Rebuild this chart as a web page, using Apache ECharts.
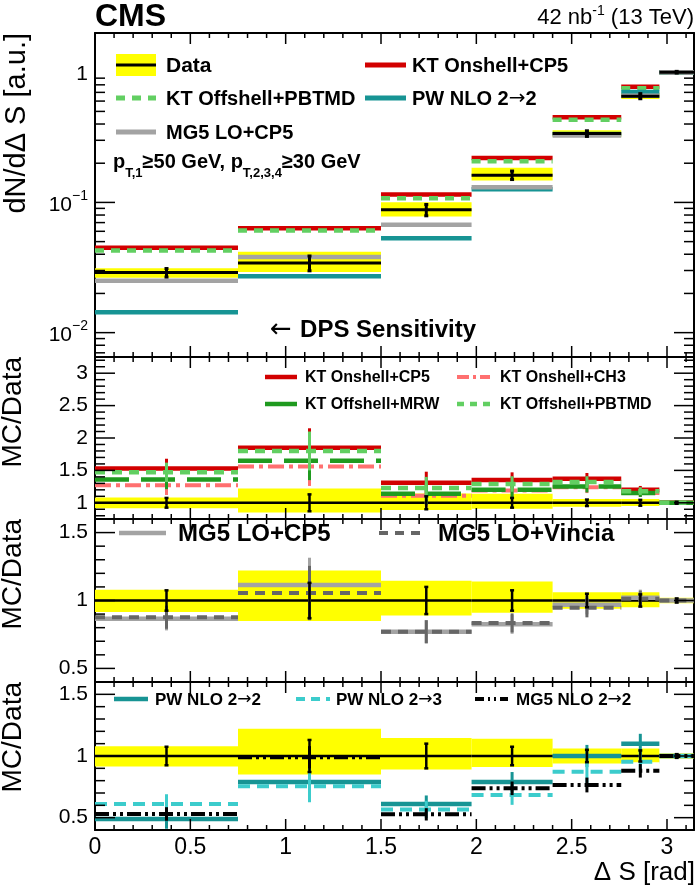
<!DOCTYPE html>
<html><head><meta charset="utf-8">
<script src="https://cdn.jsdelivr.net/npm/echarts@6/dist/echarts.min.js"></script>
<style>html,body{margin:0;padding:0;background:#fff}#c{width:700px;height:885px}</style>
</head><body><div id="c"></div>
<script>
// ---------------- data ----------------
const binEdges = [0, 0.75, 1.5, 1.975, 2.4, 2.76, 2.96, Math.PI];
// top panel: normalised distributions
const dataNorm        = [0.0289, 0.0343, 0.0877, 0.162, 0.338, 0.655, 1.0];
const ktOnshellCP5Top = [0.0449, 0.0634, 0.1148, 0.2195, 0.450, 0.774, 1.0];
const ktOffPBTMDTop   = [0.0428, 0.0608, 0.1076, 0.207, 0.431, 0.752, 1.0];
const pwNlo22Top      = [0.01436, 0.0271, 0.0531, 0.126, 0.336, 0.705, 1.0];
const mg5LoCP5Top     = [0.0250, 0.0381, 0.0675, 0.131, 0.326, 0.660, 1.0];
// relative data uncertainties
const dataStatRel = [0.075, 0.13, 0.10, 0.075, 0.05, 0.045, 0.015];
const dataUncUp   = [0.08, 0.22, 0.145, 0.14, 0.06, 0.06, 0.02];
const dataUncDown = [0.085, 0.15, 0.11, 0.09, 0.06, 0.05, 0.02];
// ratio panels (MC / Data)
const ratioData       = [1, 1, 1, 1, 1, 1, 1];
const ratioKtOnCP5    = [1.53, 1.85, 1.31, 1.35, 1.37, 1.20, 1.0];
const ratioKtOnCH3    = [1.27, 1.56, 1.11, 1.19, 1.24, 1.15, 1.0];
const ratioKtOffMRW   = [1.36, 1.65, 1.14, 1.20, 1.25, 1.15, 1.0];
const ratioKtOffPBTMD = [1.47, 1.80, 1.23, 1.29, 1.32, 1.18, 1.0];
const errKt           = [0.15, 0.30, 0.17, 0.12, 0.09, 0.06, 0.02];
const ratioMg5LoCP5    = [0.865, 1.115, 0.77, 0.825, 0.968, 1.02, 1.0];
const ratioMg5LoVincia = [0.877, 1.055, 0.77, 0.835, 0.946, 1.012, 1.0];
const errMg5Lo         = [0.085, 0.20, 0.085, 0.07, 0.07, 0.06, 0.02];
const ratioPwNlo22  = [0.49, 0.79, 0.61, 0.79, 1.00, 1.10, 1.0];
const ratioPwNlo23  = [0.61, 0.755, 0.567, 0.684, 0.873, 0.954, 1.0];
const ratioMg5Nlo22 = [0.53, 0.99, 0.527, 0.738, 0.765, 0.88, 1.0];
const errNlo        = [0.08, 0.13, 0.07, 0.08, 0.09, 0.08, 0.02];
const errMg5Nlo     = [0.055, 0.09, 0.05, 0.055, 0.06, 0.055, 0.015];
// tick labels
const xTickLabels = ['0', '0.5', '1', '1.5', '2', '2.5', '3'];
const xTickValues = [0, 0.5, 1, 1.5, 2, 2.5, 3];
const topYTickValues = [0.01, 0.1, 1];
const topYTickExps = [-2, -1, 0];
const ktYTickValues = [1, 1.5, 2, 2.5, 3];
const ktYTickLabels = ['1', '1.5', '2', '2.5', '3'];
const rYTickValues = [0.5, 1, 1.5];
const rYTickLabels = ['0.5', '1', '1.5'];

// ---------------- styling ----------------
const FONT = '"Liberation Sans", Arial, Helvetica, sans-serif';
const SYMF = '"DejaVu Sans", sans-serif';
const C = {
  red: '#d20000', salmon: '#ff7070', dgreen: '#1f9a1f', lgreen: '#62cf62',
  teal: '#179494', cyan: '#3ccccc', black: '#000', gray: '#a3a3a3', dgray: '#666666', yellow: '#ffff00'
};
const grids = [
  {left: 95, right: 6, top: 33, height: 324},
  {left: 95, right: 6, top: 357, height: 162},
  {left: 95, right: 6, top: 519, height: 163},
  {left: 95, right: 6, top: 682, height: 148}
];
const yRanges = [[0.0065, 2], [0.75, 3.25], [0.4, 1.6], [0.4, 1.6]];

function near(a, b) { return Math.abs(a - b) < 1e-6; }
function lookup(vals, labels, v) { for (let i = 0; i < vals.length; i++) if (near(vals[i], v)) return labels[i]; return ''; }

const xAxes = [], yAxes = [];
grids.forEach((g, gi) => {
  const base = {gridIndex: gi, type: 'value', min: 0, max: Math.PI, interval: 0.5,
    axisLine: {show: true, onZero: false, lineStyle: {color: '#000', width: 2}},
    axisTick: {show: false}, splitLine: {show: false}};
  xAxes.push(Object.assign({}, base, {position: 'bottom',
    axisLabel: {show: gi === 3, color: '#000', fontFamily: FONT, fontSize: 23, margin: 6,
      formatter: v => lookup(xTickValues, xTickLabels, v)}}));
  xAxes.push(Object.assign({}, base, {position: 'top', axisLabel: {show: false}}));
  let yb;
  if (gi === 0) {
    yb = {type: 'log', logBase: 10, min: yRanges[0][0], max: yRanges[0][1]};
  } else if (gi === 1) {
    yb = {type: 'value', min: yRanges[1][0], max: yRanges[1][1], interval: 0.25};
  } else {
    yb = {type: 'value', min: yRanges[gi][0], max: yRanges[gi][1], interval: 0.1};
  }
  Object.assign(yb, {gridIndex: gi, axisLine: {show: true, onZero: false, lineStyle: {color: '#000', width: 2}},
    axisTick: {show: false}, splitLine: {show: false}});
  let fmt;
  if (gi === 0) fmt = v => {
    const e = lookup(topYTickValues, topYTickExps, v);
    if (e === '') return '';
    if (e === 0) return '{b|1}';
    return '{b|10}{s|\u2212' + Math.abs(e) + '}';
  };
  else if (gi === 1) fmt = v => lookup(ktYTickValues, ktYTickLabels, v);
  else fmt = v => lookup(rYTickValues, rYTickLabels, v);
  yAxes.push(Object.assign({}, yb, {position: 'left',
    axisLabel: {show: true, color: '#000', fontFamily: FONT, fontSize: 21, margin: 7, formatter: fmt,
      rich: {b: {fontSize: 21, fontFamily: FONT, color: '#000', lineHeight: 26, verticalAlign: 'bottom'},
             s: {fontSize: 14, fontFamily: FONT, color: '#000', lineHeight: 12, verticalAlign: 'top'}}}}));
  yAxes.push(Object.assign({}, yb, {position: 'right', axisLabel: {show: false}}));
});

// ---------------- series builders ----------------
function segSeries(gi, name, vals, color, width, dash, z) {
  return {type: 'custom', name, xAxisIndex: 2 * gi, yAxisIndex: 2 * gi, z: z, silent: true, clip: true,
    encode: {x: [0, 1], y: 2},
    data: vals.map((v, i) => [binEdges[i], binEdges[i + 1], v]),
    renderItem: (p, api) => {
      const a = api.coord([api.value(0), api.value(2)]);
      const b = api.coord([api.value(1), api.value(2)]);
      return {type: 'line', shape: {x1: a[0], y1: a[1], x2: b[0], y2: b[1]},
        style: {stroke: color, lineWidth: width, lineDash: dash || null, fill: null}};
    }};
}
function bandSeries(gi, lows, highs, z) {
  return {type: 'custom', name: 'band', xAxisIndex: 2 * gi, yAxisIndex: 2 * gi, z: z, silent: true, clip: true,
    encode: {x: [0, 1], y: [2, 3]},
    data: lows.map((l, i) => [binEdges[i], binEdges[i + 1], l, highs[i]]),
    renderItem: (p, api) => {
      const a = api.coord([api.value(0), api.value(3)]);
      const b = api.coord([api.value(1), api.value(2)]);
      return {type: 'rect', shape: {x: a[0], y: a[1], width: b[0] - a[0], height: b[1] - a[1]},
        style: {fill: C.yellow}};
    }};
}
function errSeries(gi, lows, highs, color, width, cap, z) {
  return {type: 'custom', name: 'err', xAxisIndex: 2 * gi, yAxisIndex: 2 * gi, z: z, silent: true, clip: true,
    encode: {x: 0, y: [1, 2]},
    data: lows.map((l, i) => [(binEdges[i] + binEdges[i + 1]) / 2, l, highs[i]]),
    renderItem: (p, api) => {
      const a = api.coord([api.value(0), api.value(2)]);
      const b = api.coord([api.value(0), api.value(1)]);
      const ch = [{type: 'line', shape: {x1: a[0], y1: a[1], x2: b[0], y2: b[1]}, style: {stroke: color, lineWidth: width}}];
      if (cap > 0) {
        ch.push({type: 'line', shape: {x1: a[0] - cap, y1: a[1], x2: a[0] + cap, y2: a[1]}, style: {stroke: color, lineWidth: width}});
        ch.push({type: 'line', shape: {x1: b[0] - cap, y1: b[1], x2: b[0] + cap, y2: b[1]}, style: {stroke: color, lineWidth: width}});
      }
      return {type: 'group', children: ch};
    }};
}
function tickSeries(gi, yRef, xTicks, yTicks) {
  const data = [];
  xTicks.forEach(t => data.push([t[0], yRef, 0, t[1]]));
  yTicks.forEach(t => data.push([1, t[0], 1, t[1]]));
  return {type: 'custom', name: 'ticks', xAxisIndex: 2 * gi, yAxisIndex: 2 * gi, z: 20, silent: true, clip: false,
    encode: {x: 0, y: 1}, data,
    renderItem: (p, api) => {
      const cs = p.coordSys;
      const q = api.coord([api.value(0), api.value(1)]);
      const L = api.value(3);
      const st = {stroke: '#000', lineWidth: 1.5};
      if (api.value(2) === 0) {
        return {type: 'group', children: [
          {type: 'line', shape: {x1: q[0], y1: cs.y + cs.height, x2: q[0], y2: cs.y + cs.height - L}, style: st},
          {type: 'line', shape: {x1: q[0], y1: cs.y, x2: q[0], y2: cs.y + L}, style: st}]};
      }
      return {type: 'group', children: [
        {type: 'line', shape: {x1: cs.x, y1: q[1], x2: cs.x + L, y2: q[1]}, style: st},
        {type: 'line', shape: {x1: cs.x + cs.width, y1: q[1], x2: cs.x + cs.width - L, y2: q[1]}, style: st}]};
    }};
}

// tick lists (axis structure)
const XMAJ = 11, XMIN = 5, YMAJ = 20, YMIN = 10;
const xTickList = [];
for (let k = 1; k <= 31; k++) { const v = k / 10; xTickList.push([v, (k % 5 === 0) ? XMAJ : XMIN]); }
const topYTickList = [];
[0.001, 0.01, 0.1].forEach(d => { for (let m = 1; m <= 9; m++) { const v = m * d; if (v >= 0.0066 && v < 1.99) topYTickList.push([v, m === 1 ? YMAJ : YMIN]); } });
const ktYTickList = [];
for (let k = 8; k <= 32; k++) { const v = k / 10; ktYTickList.push([v, (k % 5 === 0) ? YMAJ : YMIN]); }
const rYTickList = [];
for (let k = 5; k <= 15; k++) { const v = k / 10; rYTickList.push([v, (k % 5 === 0) ? YMAJ : YMIN]); }

// ---------------- series ----------------
const series = [];
// top panel
series.push(bandSeries(0, dataNorm.map((d, i) => d * (1 - dataUncDown[i])), dataNorm.map((d, i) => d * (1 + dataUncUp[i])), 1));
series.push(segSeries(0, 'KT Onshell+CP5', ktOnshellCP5Top, C.red, 4.5, null, 2));
series.push(segSeries(0, 'KT Offshell+PBTMD', ktOffPBTMDTop, C.lgreen, 4.5, [9, 7], 3));
series.push(segSeries(0, 'PW NLO 2\u21922', pwNlo22Top, C.teal, 4.5, null, 4));
series.push(segSeries(0, 'MG5 LO+CP5', mg5LoCP5Top, C.gray, 4.5, null, 5));
series.push(segSeries(0, 'Data', dataNorm, C.black, 3, null, 6));
series.push(errSeries(0, dataNorm.map((d, i) => d * (1 - dataStatRel[i])), dataNorm.map((d, i) => d * (1 + dataStatRel[i])), C.black, 3, 2, 7));
series.push(tickSeries(0, 0.01, xTickList, topYTickList));

function ratioBand(gi) {
  return bandSeries(gi, dataUncDown.map(u => 1 - u), dataUncUp.map(u => 1 + u), 1);
}
function dataRatio(gi) {
  return [segSeries(gi, 'Data', ratioData, C.black, 2.5, null, 2),
          errSeries(gi, dataStatRel.map((u, i) => ratioData[i] - u), dataStatRel.map((u, i) => ratioData[i] + u), C.black, 2.5, 2, 12)];
}
function mcRatio(gi, name, vals, errs, color, width, dash, z) {
  return [errSeries(gi, vals.map((v, i) => v - errs[i]), vals.map((v, i) => v + errs[i]), color, 3, 0, z),
          segSeries(gi, name, vals, color, width, dash, z)];
}
// panel 2
series.push(ratioBand(1));
series.push(...dataRatio(1));
series.push(...mcRatio(1, 'KT Onshell+CP5', ratioKtOnCP5, errKt, C.red, 4.5, null, 3));
series.push(...mcRatio(1, 'KT Onshell+CH3', ratioKtOnCH3, errKt, C.salmon, 4, [16, 5, 4, 5], 4));
series.push(...mcRatio(1, 'KT Offshell+MRW', ratioKtOffMRW, errKt, C.dgreen, 4.5, [34, 12], 5));
series.push(...mcRatio(1, 'KT Offshell+PBTMD', ratioKtOffPBTMD, errKt, C.lgreen, 4.5, [10, 7], 6));
series.push(tickSeries(1, 1, xTickList, ktYTickList));
// panel 3
series.push(ratioBand(2));
series.push(...dataRatio(2));
series.push(...mcRatio(2, 'MG5 LO+CP5', ratioMg5LoCP5, errMg5Lo, C.gray, 4.5, null, 3));
series.push(...mcRatio(2, 'MG5 LO+Vincia', ratioMg5LoVincia, errMg5Lo, C.dgray, 4, [10, 7], 4));
series.push(tickSeries(2, 1, xTickList, rYTickList));
// panel 4
series.push(ratioBand(3));
series.push(...dataRatio(3));
series.push(...mcRatio(3, 'PW NLO 2\u21922', ratioPwNlo22, errNlo, C.teal, 4.5, null, 3));
series.push(...mcRatio(3, 'PW NLO 2\u21923', ratioPwNlo23, errNlo, C.cyan, 4, [12, 7], 4));
series.push(...mcRatio(3, 'MG5 NLO 2\u21922', ratioMg5Nlo22, errMg5Nlo, C.black, 4, [14, 4, 3, 4, 3, 4], 5));
series.push(tickSeries(3, 1, xTickList, rYTickList));

// ---------------- annotations / legends ----------------
function txt(x, y, text, size, bold, align, extra) {
  return Object.assign({type: 'text', x, y, z: 100, silent: true,
    style: {text, fill: '#000', font: (bold ? 'bold ' : '') + size + 'px ' + FONT,
      align: align || 'left', verticalAlign: 'middle', textAlign: align || 'left', textVerticalAlign: 'middle'}}, extra || {});
}
// rich text helper: tokens n (normal), a (arrow), with bold option
function rtxt(x, y, text, size, bold, rich) {
  const base = {fontSize: size, fontWeight: bold ? 'bold' : 'normal', fontFamily: FONT, fill: '#000', color: '#000', verticalAlign: 'middle'};
  const r = {n: Object.assign({}, base),
             a: Object.assign({}, base, {fontFamily: SYMF, fontWeight: 'normal'})};
  Object.keys(rich || {}).forEach(k => { r[k] = Object.assign({}, base, rich[k]); });
  return {type: 'text', x, y, z: 100, silent: true,
    style: {text, rich: r, align: 'left', verticalAlign: 'middle', textAlign: 'left', textVerticalAlign: 'middle'}};
}
function sym(x1, x2, y, color, width, dash) {
  return {type: 'line', z: 100, silent: true, shape: {x1, y1: y, x2, y2: y},
    style: {stroke: color, lineWidth: width, lineDash: dash || null}};
}
const graphic = [
  txt(95, 17, 'CMS', 32, true, 'left'),
  {type: 'text', x: 694, y: 18, z: 100, silent: true, style: {
    text: '{n|42 nb}{s|-1}{n| (13 TeV)}', align: 'right', verticalAlign: 'middle', textAlign: 'right', textVerticalAlign: 'middle',
    rich: {n: {fontSize: 22, fontFamily: FONT, fill: '#000', color: '#000', lineHeight: 24, verticalAlign: 'middle'},
           s: {fontSize: 14, fontFamily: FONT, fill: '#000', color: '#000', lineHeight: 14, padding: [0, 0, 14, 0], verticalAlign: 'middle'}}}},
  txt(17, 33, 'dN/d\u0394 S [a.u.]', 29, false, 'right', {rotation: Math.PI / 2}),
  txt(13, 357, 'MC/Data', 28, false, 'right', {rotation: Math.PI / 2}),
  txt(13, 519, 'MC/Data', 28, false, 'right', {rotation: Math.PI / 2}),
  txt(13, 682, 'MC/Data', 28, false, 'right', {rotation: Math.PI / 2}),
  txt(695, 873, '\u0394 S [rad]', 26, false, 'right'),
  // top legend
  {type: 'rect', z: 99, silent: true, shape: {x: 116, y: 54, width: 40, height: 22}, style: {fill: C.yellow}},
  sym(116, 156, 65, C.black, 3),
  txt(166, 66, 'Data', 21, true),
  sym(365, 406, 65, C.red, 5),
  txt(412, 66, 'KT Onshell+CP5', 20, true),
  sym(116, 156, 98, C.lgreen, 5, [9, 7]),
  txt(166, 99, 'KT Offshell+PBTMD', 20, true),
  sym(365, 406, 98, C.teal, 5),
  rtxt(412, 99, '{n|PW NLO 2}{a|\u2192}{n|2}', 20, true),
  sym(116, 156, 132, C.gray, 5),
  txt(166, 133, 'MG5 LO+CP5', 20, true),
  rtxt(113, 162, '{n|p}{u|T,1}{n|\u226550 GeV, p}{u|T,2,3,4}{n|\u226530 GeV}', 20, true,
    {u: {fontSize: 13, lineHeight: 14, padding: [22, 0, 0, 0]}}),
  rtxt(270, 330, '{a|\u2190 }{n|DPS Sensitivity}', 24, true, {a: {fontFamily: SYMF, fontWeight: 'normal', fontSize: 26}}),
  // panel 2 legend
  sym(265, 297, 377, C.red, 4.5),
  txt(305, 378, 'KT Onshell+CP5', 16, true),
  sym(457, 490, 377, C.salmon, 4, [12, 4, 3, 4]),
  txt(500, 378, 'KT Onshell+CH3', 16, true),
  sym(265, 297, 404, C.dgreen, 4.5),
  txt(305, 405, 'KT Offshell+MRW', 16, true),
  sym(457, 490, 404, C.lgreen, 4.5, [7, 6]),
  txt(500, 405, 'KT Offshell+PBTMD', 16, true),
  // panel 3 legend
  sym(119, 166, 533, C.gray, 4.5),
  txt(178, 534, 'MG5 LO+CP5', 24, true),
  sym(379, 427, 533, C.dgray, 4, [9, 7]),
  txt(438, 534, 'MG5 LO+Vincia', 24, true),
  // panel 4 legend
  sym(114, 148, 699, C.teal, 4.5),
  rtxt(155, 700, '{n|PW NLO 2}{a|\u2192}{n|2}', 17, true),
  sym(296, 330, 699, C.cyan, 4, [9, 6]),
  rtxt(336, 700, '{n|PW NLO 2}{a|\u2192}{n|3}', 17, true),
  sym(475, 508, 699, C.black, 4, [9, 4, 2, 4, 2, 4]),
  rtxt(516, 700, '{n|MG5 NLO 2}{a|\u2192}{n|2}', 17, true)
];

const chart = echarts.init(document.getElementById('c'), null, {renderer: 'canvas'});
chart.setOption({
  animation: false,
  backgroundColor: '#fff',
  grid: grids,
  xAxis: xAxes,
  yAxis: yAxes,
  series,
  graphic
});
</script></body></html>
